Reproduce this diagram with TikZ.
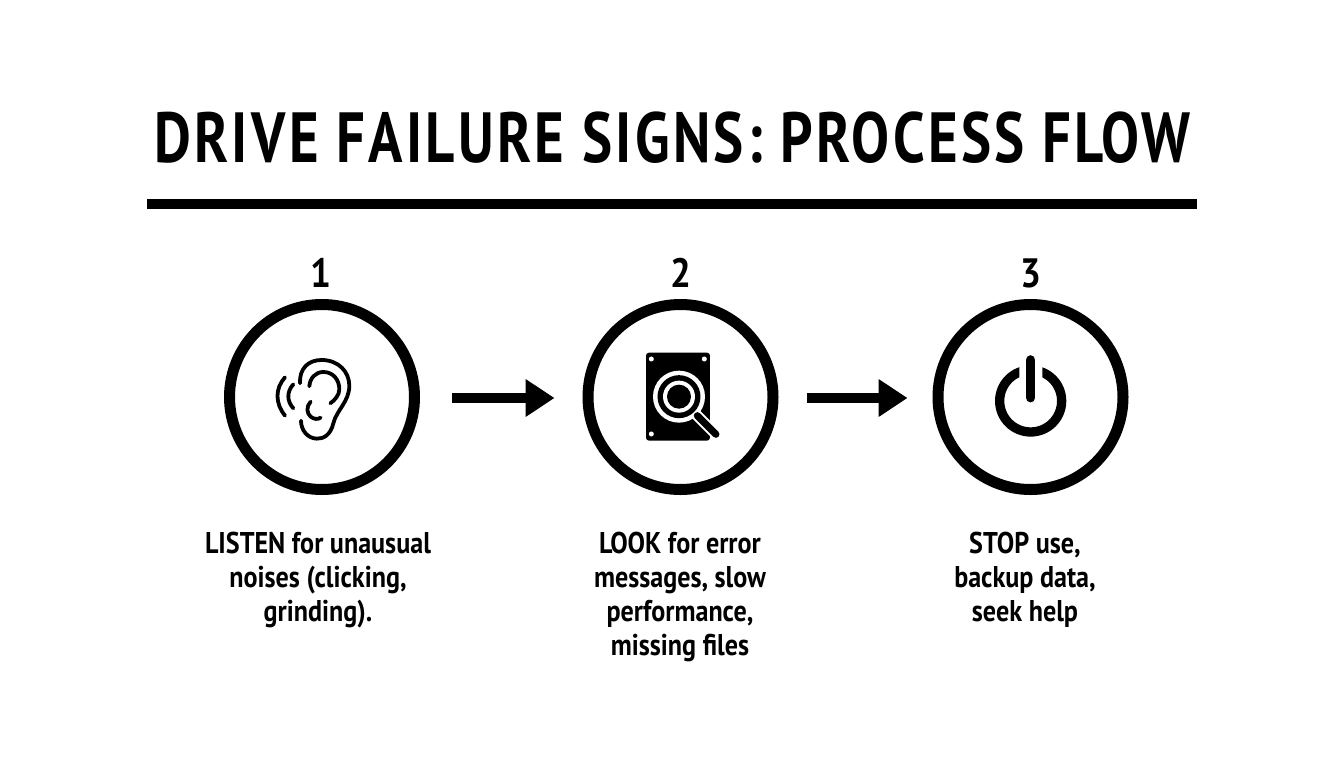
\documentclass[tikz,border=0pt]{standalone}
\usepackage{fontspec}
\usetikzlibrary{arrows.meta}
\setmainfont[BoldFont={PT Sans Bold}]{PT Sans}
\newfontfamily\titlefont[FakeStretch=0.8,LetterSpace=4.7]{PT Sans Bold}
\newfontfamily\bodyfont[FakeStretch=0.87]{PT Sans Bold}
\newfontfamily\numfont[FakeStretch=0.9]{PT Sans Bold}
\tikzset{
  x=1pt,y=-1pt,
  ring/.style={circle,draw=black,line width=11pt,minimum size=185pt,inner sep=0pt,fill=white},
  flow/.style={line width=10pt,-{Triangle[length=29pt,width=36pt]}},
  num/.style={font=\numfont\fontsize{41}{41}\selectfont,inner sep=0pt},
  caption/.style={font=\bodyfont\fontsize{30}{34}\selectfont,align=center,inner sep=0pt},
  earline/.style={line width=3.8pt,line cap=round,line join=round,draw=black}
}
\begin{document}
\begin{tikzpicture}
\useasboundingbox[fill=white] (0,0) rectangle (1344,768);
\node[font=\titlefont\fontsize{71}{71}\selectfont,inner sep=0pt] (title) at (672.5,138) {DRIVE FAILURE SIGNS: PROCESS FLOW};
\fill[black] (147,199) rectangle (1197,209);

\node[ring] (c1) at (322,397) {};
\node[ring] (c2) at (680.5,397) {};
\node[ring] (c3) at (1030.5,397) {};

\draw[flow,shorten <=32pt,shorten >=28pt] ([yshift=-1pt]c1.east) -- ([yshift=-1pt]c2.west);
\draw[flow,shorten <=28pt,shorten >=25pt] ([yshift=-1pt]c2.east) -- ([yshift=-1pt]c3.west);

\node[num] (n1) at (320.5,273) {1};
\node[num] (n2) at (680.5,273) {2};
\node[num] (n3) at (1030.5,273) {3};

\node[caption] (t1) at (318,580) {LISTEN for unausual\\noises (clicking,\\grinding).};
\node[caption] (t2) at (680,597) {LOOK for error\\messages, slow\\performance,\\missing files};
\node[caption] (t3) at (1025,580) {STOP use,\\backup data,\\seek help};

% ear
\begin{scope}[shift={(220,295)},x=0.3333pt,y=-0.3333pt]
\draw[earline] (240,265) .. controls (238,220) and (265,195) .. (305,195)
  .. controls (355,195) and (388,230) .. (388,272)
  .. controls (388,320) and (350,345) .. (340,385)
  .. controls (332,420) and (310,432) .. (290,431)
  .. controls (262,430) and (243,405) .. (243,377);
\draw[earline] (268,274) .. controls (270,248) and (288,231) .. (310,231)
  .. controls (340,231) and (358,255) .. (358,283)
  .. controls (358,300) and (345,315) .. (331,325);
\draw[earline] (272,320) .. controls (258,335) and (260,355) .. (272,365)
  .. controls (282,373) and (293,374) .. (302,368);
\draw[earline] (195,247) .. controls (165,280) and (165,325) .. (195,362);
\draw[earline] (220,268) .. controls (200,290) and (200,318) .. (220,340);
\end{scope}

% drive
\begin{scope}[shift={(580,295)},x=0.3333pt,y=-0.3333pt]
\fill[black,rounded corners=3pt] (198,173) rectangle (390,437);
\fill[white] (214,192) circle[radius=2.5pt] (373,192) circle[radius=2.5pt] (214,417) circle[radius=2.5pt];
\draw[white,line width=11pt,line cap=round] (340,350) -- (408,418);
\fill[white] (297,305) circle[radius=26pt];
\fill[black] (297,305) circle[radius=21.5pt];
\fill[white] (297,305) circle[radius=16pt];
\fill[black] (297,305) circle[radius=12pt];
\draw[black,line width=7pt,line cap=round] (352,362) -- (408,418);
\end{scope}

% power
\begin{scope}[shift={(930,295)},x=0.3333pt,y=-0.3333pt]
\begin{scope}
\clip (180,160) -- (268,160) -- (268,290) -- (337,290) -- (337,160) -- (430,160) -- (430,440) -- (180,440) -- cycle;
\draw[black,line width=9.3pt] (302,318) circle[radius=31pt];
\end{scope}
\draw[black,line width=9.6pt,line cap=round] (302,195) -- (302,308);
\end{scope}
\end{tikzpicture}
\end{document}
